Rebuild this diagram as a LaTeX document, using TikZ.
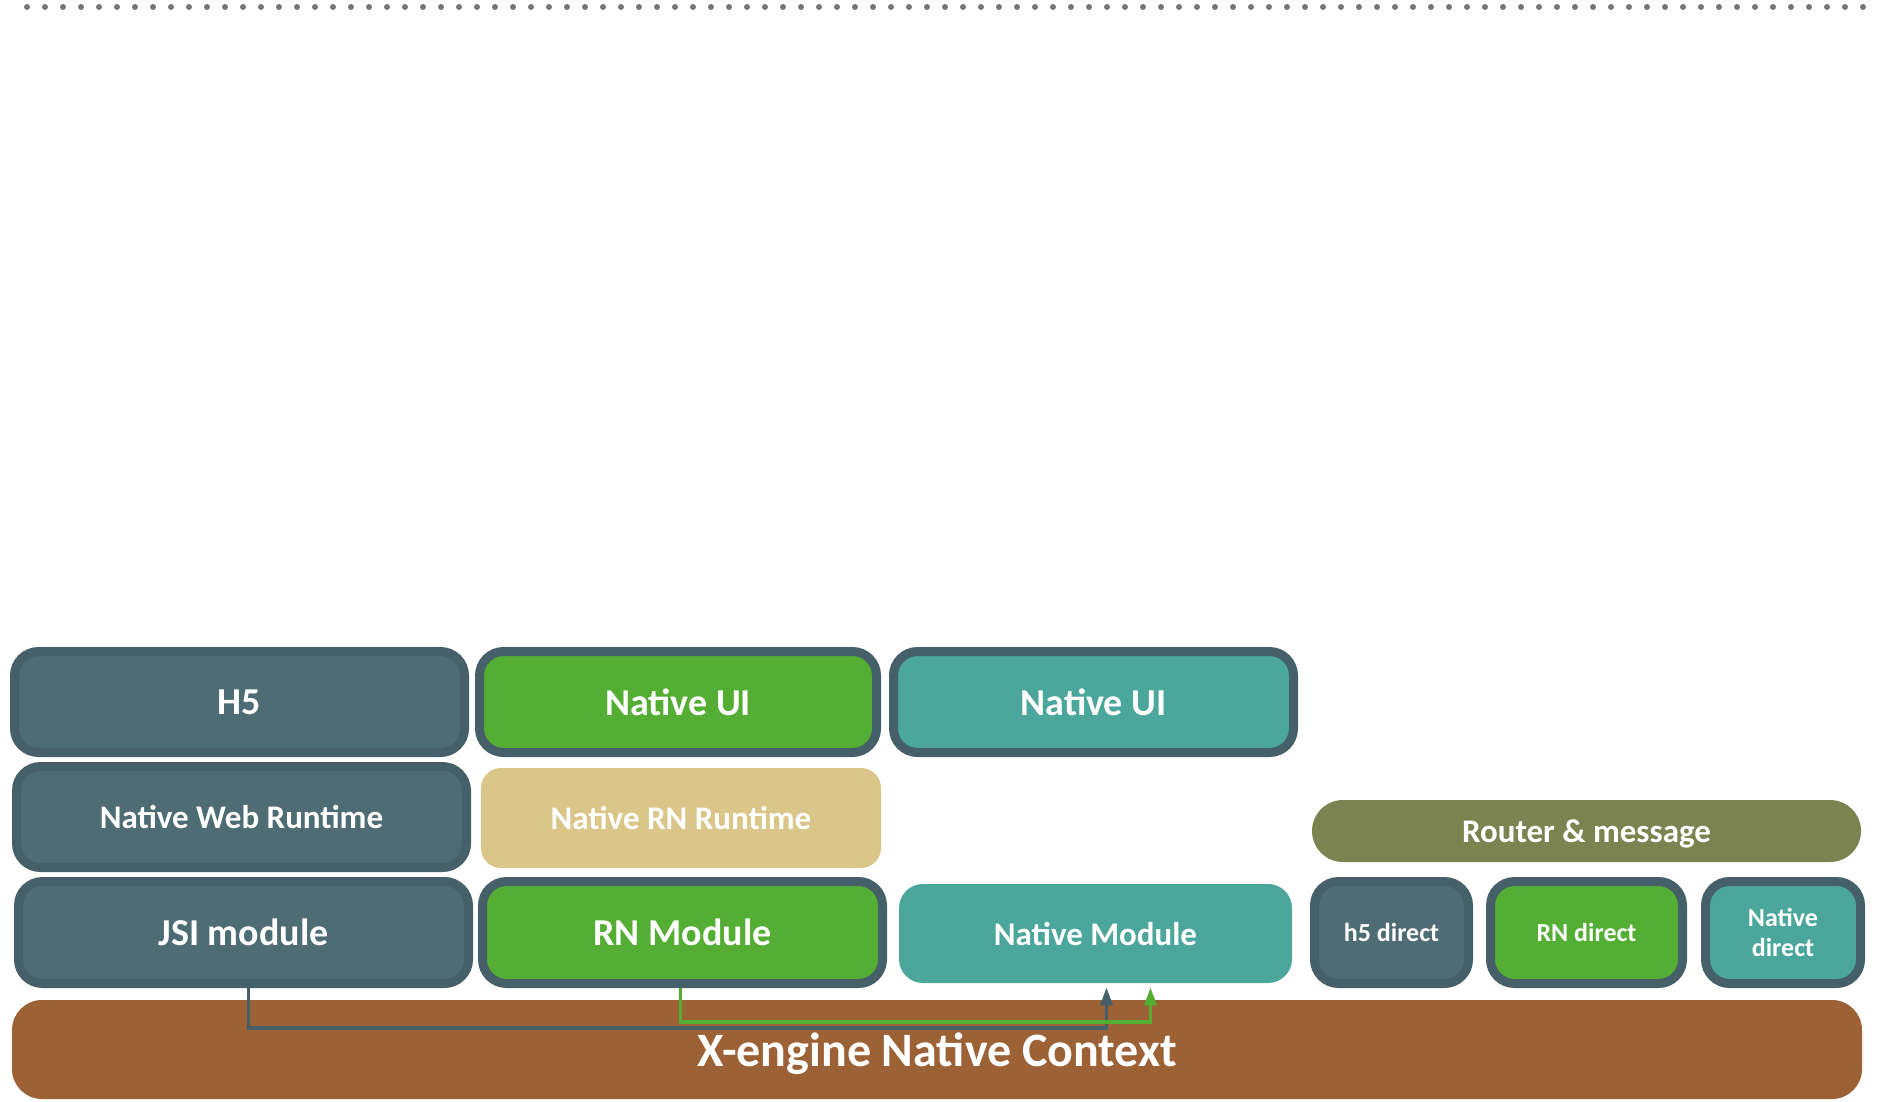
\documentclass[tikz,border=0pt]{standalone}
\usepackage{fontspec}
\setmainfont{Carlito}
\usetikzlibrary{arrows.meta, calc}

\definecolor{slate}{HTML}{456068}
\definecolor{slatefill}{HTML}{4D6C74}
\definecolor{rngreen}{HTML}{54AE33}
\definecolor{nteal}{HTML}{4BA69B}
\definecolor{rntan}{HTML}{DBC689}
\definecolor{routerolive}{HTML}{7B8450}
\definecolor{ctxbrown}{HTML}{9C6134}
\definecolor{dotgray}{HTML}{777777}

\tikzset{
  box/.style={rounded corners=12pt, text=white, inner sep=0pt, align=center, text depth=0pt},
  rough/.style={box, fill=#1, draw=slate, line width=4.5pt},
  flat/.style={box, fill=#1},
  big/.style={font=\bfseries\fontsize{19}{22}\selectfont},
  mid/.style={font=\bfseries\fontsize{16.5}{19}\selectfont},
  small/.style={font=\bfseries\fontsize{13}{15}\selectfont},
  link/.style={line width=1.75pt, -{Triangle[length=9pt,width=6pt]}, shorten >=2pt},
}

\begin{document}
\begin{tikzpicture}[x=0.5pt, y=-0.5pt]
	\useasboundingbox (0,0) rectangle (1884,1102);
	% dotted rule on top
	\foreach \i in {0,...,102}
		\fill[dotgray] (27+18*\i, 7) circle (1.5pt);

	% base
	\node[flat=ctxbrown, rounded corners=15pt, minimum width=925pt, minimum height=49.5pt,
		font=\bfseries\fontsize{24}{28}\selectfont] (ctx) at (937,1049.5) {X-engine Native Context};

	% top row
	\node[rough=slatefill, big, minimum width=225pt, minimum height=50.5pt] (h5) at (239.5,702) {H5};
	\node[rough=rngreen, big, minimum width=198.5pt, minimum height=50.5pt] (rnui) at (678,702) {Native UI};
	\node[rough=nteal, big, minimum width=200pt, minimum height=50.5pt] (natui) at (1093.5,702) {Native UI};

	% runtimes
	\node[rough=slatefill, mid, minimum width=225pt, minimum height=50.5pt] (webrt) at (241.5,817) {Native Web Runtime};
	\node[flat=rntan, mid, rounded corners=10pt, minimum width=200pt, minimum height=50pt] (rnrt) at (681,818) {Native RN Runtime};
	\node[flat=routerolive, mid, rounded corners=15.5pt, minimum width=274.5pt, minimum height=31pt] (router) at (1586.5,831) {Router \& message};

	% modules
	\node[rough=slatefill, big, minimum width=225pt, minimum height=51pt] (jsi) at (243.5,932.5) {JSI module};
	\node[rough=rngreen, big, minimum width=200pt, minimum height=51pt] (rnmod) at (682.5,932.5) {RN Module};
	\node[flat=nteal, mid, minimum width=196.5pt, minimum height=49.5pt] (natmod) at (1095.5,933.5) {Native Module};
	\node[rough=slatefill, small, minimum width=77pt, minimum height=51pt] (h5dir) at (1391.5,932.5) {h5 direct};
	\node[rough=rngreen, small, minimum width=96pt, minimum height=51pt] (rndir) at (1586.5,932.5) {RN direct};
	\node[rough=nteal, small, minimum width=77.5pt, minimum height=51pt] (natdir) at (1783,932.5) {Native\\direct};

	% calls into native module
	\draw[link, slate] ($(jsi.south)+(5,0)$) -- ++(0,40) -| ($(natmod.south)+(11,0)$);
	\draw[link, rngreen] ($(rnmod.south)+(-2,0)$) -- ++(0,34) -| ($(natmod.south)+(55,0)$);
\end{tikzpicture}
\end{document}
